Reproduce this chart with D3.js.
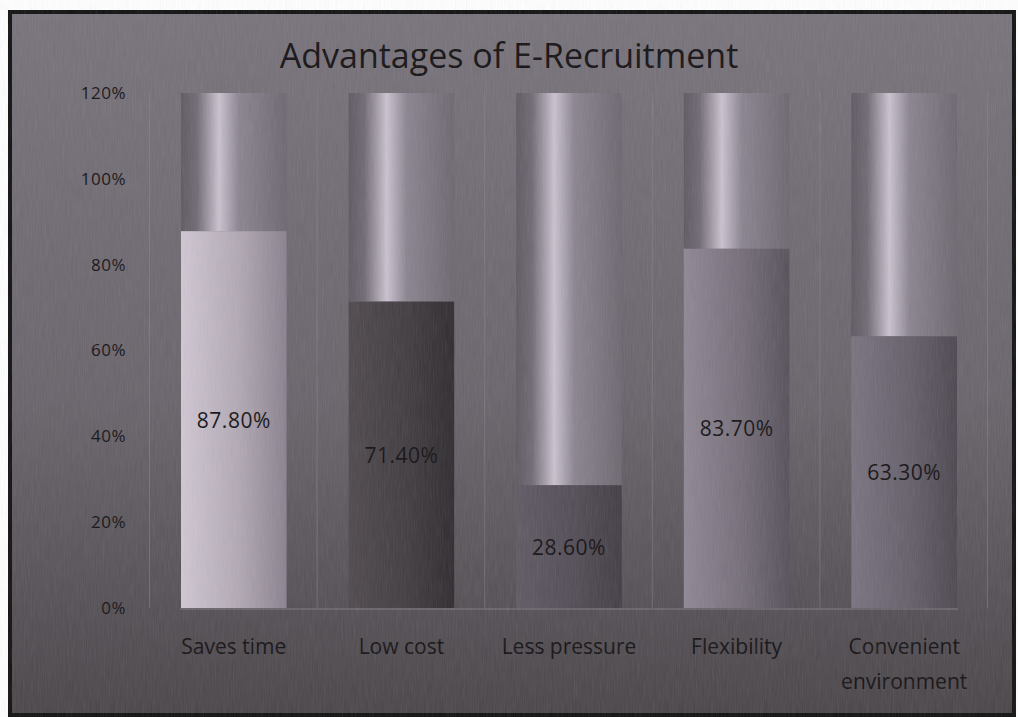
<!DOCTYPE html>
<html>
<head>
<meta charset="utf-8">
<script src="https://cdn.jsdelivr.net/npm/d3@7"></script>
<style>
  body { margin: 0; background: #ffffff; }
  svg { display: block; }
</style>
</head>
<body>
<svg id="chart" width="1018" height="717"></svg>
<script>
const categories = ['Saves time', 'Low cost', 'Less pressure', 'Flexibility', 'Convenient environment']
const values = [87.8, 71.4, 28.6, 83.7, 63.3]
const valueLabels = ['87.80%', '71.40%', '28.60%', '83.70%', '63.30%']
const yTicks = [0, 20, 40, 60, 80, 100, 120]

// lower-bar shading per category: [left, right]
const barShades = [
  ['#d0c7d3', '#8a818e'],
  ['#4f494e', '#2f2b2f'],
  ['#5f5964', '#423d44'],
  ['#8f8794', '#56505a'],
  ['#797380', '#4c4750']
]

const svg = d3.select('#chart')
const W = 1018, H = 717
const margin = { top: 93, right: 30, bottom: 109, left: 150 }
const textColor = '#141214'

const defs = svg.append('defs')

let bg = defs.append('linearGradient').attr('id', 'bg')
  .attr('x1', 0).attr('y1', 0).attr('x2', 0).attr('y2', 1)
bg.append('stop').attr('offset', '0%').attr('stop-color', '#78737b')
bg.append('stop').attr('offset', '55%').attr('stop-color', '#69646b')
bg.append('stop').attr('offset', '100%').attr('stop-color', '#4a4549')

let cyl = defs.append('linearGradient').attr('id', 'cyl')
  .attr('x1', 0).attr('y1', 0).attr('x2', 1).attr('y2', 0)
cyl.append('stop').attr('offset', '0%').attr('stop-color', '#5e5962')
cyl.append('stop').attr('offset', '15%').attr('stop-color', '#6f6a74')
cyl.append('stop').attr('offset', '36%').attr('stop-color', '#cbc2cf')
cyl.append('stop').attr('offset', '55%').attr('stop-color', '#8a8490')
cyl.append('stop').attr('offset', '100%').attr('stop-color', '#6c6770')

barShades.forEach((s, i) => {
  let g = defs.append('linearGradient').attr('id', 'bar' + i)
    .attr('x1', 0).attr('y1', 0).attr('x2', 1).attr('y2', 0)
  g.append('stop').attr('offset', '0%').attr('stop-color', s[0])
  g.append('stop').attr('offset', '55%').attr('stop-color', d3.interpolateRgb(s[0], s[1])(0.45))
  g.append('stop').attr('offset', '100%').attr('stop-color', s[1])
})

// scan grain
let grain = defs.append('filter').attr('id', 'grain')
grain.append('feTurbulence').attr('type', 'fractalNoise')
  .attr('baseFrequency', '0.9 0.05').attr('numOctaves', 2).attr('seed', 3)
grain.append('feColorMatrix').attr('type', 'saturate').attr('values', 0)
grain.append('feComponentTransfer').append('feFuncA').attr('type', 'linear').attr('slope', 0.12)

svg.append('rect').attr('width', W).attr('height', H).attr('fill', '#ffffff')
svg.append('rect').attr('x', 10).attr('y', 12).attr('width', W - 14).attr('height', H - 14)
  .attr('fill', 'url(#bg)').attr('stroke', '#111').attr('stroke-width', 4)

let x = d3.scaleBand().domain(categories)
  .range([margin.left, W - margin.right]).paddingInner(0.37).paddingOuter(0.185)
let y = d3.scaleLinear().domain([0, 120]).range([H - margin.bottom, margin.top])

// faint vertical separators
svg.append('g').selectAll('line').data(d3.range(categories.length + 1)).enter()
  .append('line')
  .attr('x1', i => margin.left + i * x.step() - 0.5)
  .attr('x2', i => margin.left + i * x.step() - 0.5)
  .attr('y1', y(120)).attr('y2', y(0))
  .attr('stroke', '#8a858d').attr('stroke-opacity', 0.5)

// upper cylinder (value to 120%)
svg.append('g').selectAll('rect').data(categories).enter()
  .append('rect')
  .attr('x', d => x(d))
  .attr('y', y(120))
  .attr('width', x.bandwidth())
  .attr('height', (d, i) => y(values[i]) - y(120))
  .attr('fill', 'url(#cyl)')

// value bars
svg.append('g').selectAll('rect').data(categories).enter()
  .append('rect')
  .attr('x', d => x(d))
  .attr('y', (d, i) => y(values[i]))
  .attr('width', x.bandwidth())
  .attr('height', (d, i) => y(0) - y(values[i]))
  .attr('fill', (d, i) => 'url(#bar' + i + ')')

// floor
svg.append('line')
  .attr('x1', margin.left + 30).attr('x2', W - margin.right - 30)
  .attr('y1', y(0) + 1).attr('y2', y(0) + 1)
  .attr('stroke', '#9d97a0').attr('stroke-opacity', 0.6)

// y axis
let yAxis = d3.axisLeft(y).tickValues(yTicks).tickFormat(d => d + '%').tickSize(0).tickPadding(0)
let ya = svg.append('g').attr('transform', 'translate(126,0)').call(yAxis)
ya.select('.domain').remove()
ya.selectAll('text').attr('fill', textColor)
  .style('font-family', 'Open Sans').style('font-size', '17px').style('letter-spacing', '0.5px')

// x axis labels
let xa = svg.append('g')
xa.selectAll('text').data(categories).enter()
  .append('text')
  .attr('x', d => x(d) + x.bandwidth() / 2)
  .attr('y', 654)
  .attr('text-anchor', 'middle')
  .attr('fill', textColor)
  .style('font-family', 'Open Sans').style('font-size', '21px')
  .each(function (d) {
    let words = d.split(' ')
    let t = d3.select(this)
    if (words.length > 1 && d.length > 14) {
      words.forEach((w, k) => t.append('tspan')
        .attr('x', x(d) + x.bandwidth() / 2).attr('dy', k ? 35 : 0).text(w))
    } else t.text(d)
  })

// data labels
svg.append('g').selectAll('text').data(categories).enter()
  .append('text')
  .attr('x', d => x(d) + x.bandwidth() / 2)
  .attr('y', (d, i) => (y(values[i]) + y(0)) / 2 + 8)
  .attr('text-anchor', 'middle')
  .attr('fill', textColor)
  .style('font-family', 'Open Sans').style('font-size', '21px').style('letter-spacing', '0.5px')
  .text((d, i) => valueLabels[i])

// title
svg.append('text')
  .attr('x', 509).attr('y', 68)
  .attr('text-anchor', 'middle')
  .attr('fill', textColor)
  .style('font-family', 'Open Sans').style('font-size', '34px')
  .text('Advantages of E-Recruitment')

svg.append('rect').attr('x', 12).attr('y', 14).attr('width', W - 18).attr('height', H - 18)
  .attr('filter', 'url(#grain)').attr('pointer-events', 'none')
</script>
</body>
</html>
